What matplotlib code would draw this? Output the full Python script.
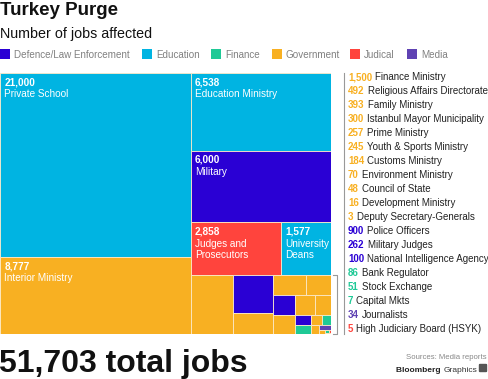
import matplotlib
matplotlib.use('Agg')
import matplotlib.pyplot as plt
from matplotlib.patches import Rectangle, FancyBboxPatch

plt.rcParams['font.family'] = ['Liberation Sans', 'DejaVu Sans']

# jobs affected, sorted largest first (treemap order)
names = ['Private School', 'Interior Ministry', 'Education Ministry', 'Military',
         'Judges and\nProsecutors', 'University\nDeans', 'Finance Ministry',
         'Police Officers', 'Religious Affairs Directorate', 'Family Ministry',
         'Istanbul Mayor Municipality', 'Military Judges', 'Prime Ministry',
         'Youth & Sports Ministry', 'Customs Ministry', 'National Intelligence Agency',
         'Bank Regulator', 'Environment Ministry', 'Stock Exchange', 'Council of State',
         'Journalists', 'Development Ministry', 'Capital Mkts',
         'High Judiciary Board (HSYK)', 'Deputy Secretary-Generals']
values = [21000, 8777, 6538, 6000, 2858, 1577, 1500, 900, 492, 393, 300, 262, 257,
          245, 184, 100, 86, 70, 51, 48, 34, 16, 7, 5, 3]
cats = ['Education', 'Government', 'Education', 'Defence/Law Enforcement', 'Judical',
        'Education', 'Government', 'Defence/Law Enforcement', 'Government', 'Government',
        'Government', 'Defence/Law Enforcement', 'Government', 'Government', 'Government',
        'Defence/Law Enforcement', 'Finance', 'Government', 'Finance', 'Government',
        'Media', 'Government', 'Finance', 'Judical', 'Government']

categories = ['Defence/Law Enforcement', 'Education', 'Finance', 'Government', 'Judical', 'Media']
colors = {'Defence/Law Enforcement': '#2a00d4', 'Education': '#00b4e2',
          'Finance': '#1fc996', 'Government': '#f8b022', 'Judical': '#ff443d',
          'Media': '#5f42b3'}
list_order = ['Government', 'Defence/Law Enforcement', 'Finance', 'Media', 'Judical']
label_min = 1577  # cells big enough to hold their own label


def worst(row, side):
    s = sum(row)
    return max(max(side * side * r / (s * s), s * s / (side * side * r)) for r in row)


def squarify(vals, x, y, dx, dy):
    total = float(sum(vals))
    areas = [v / total * dx * dy for v in vals]
    rects = []
    i = 0
    while i < len(areas):
        side = min(dx, dy)
        row = [areas[i]]
        j = i + 1
        while j < len(areas) and worst(row + [areas[j]], side) <= worst(row, side):
            row.append(areas[j])
            j += 1
        s = sum(row)
        if dx >= dy:
            w = s / dy
            yy = y
            for a in row:
                rects.append((x, yy, w, a / w))
                yy += a / w
            x += w
            dx -= w
        else:
            h = s / dx
            xx = x
            for a in row:
                rects.append((xx, y, a / h, h))
                xx += a / h
            y += h
            dy -= h
        i = j
    return rects


W, H = 488, 379
fig = plt.figure(figsize=(W / 100, H / 100), dpi=100)

# overlay in pixel coordinates for the text
ov = fig.add_axes([0, 0, 1, 1])
ov.set_xlim(0, W)
ov.set_ylim(H, 0)
ov.axis('off')

ov.text(0, 15, 'Turkey Purge', fontsize=13.5, fontweight='bold', color='#111111', va='baseline')
ov.text(0, 38, 'Number of jobs affected', fontsize=10.3, color='#111111', va='baseline')

leg_x = [0, 142, 211, 272, 350, 407]
for c, lx in zip(categories, leg_x):
    ov.add_patch(Rectangle((lx, 49), 10, 10, color=colors[c], lw=0))
    ov.text(lx + 14, 54.5, c, fontsize=7.1, color='#808080', va='center')

# treemap
ax = fig.add_axes([0, 1 - 334 / H, 331 / W, 261 / H])
ax.set_xlim(0, 1)
ax.set_ylim(1, 0)
ax.axis('off')

rects = squarify(values, 0, 0, 1, 1)
for (x, y, w, h), v, n, c in zip(rects, values, names, cats):
    ax.add_patch(Rectangle((x, y), w, h, facecolor=colors[c], edgecolor='#fbe9c8', lw=0.6))
    if v >= label_min:
        ax.annotate('{:,}'.format(v), (x, y), xytext=(3, -3), textcoords='offset points',
                    fontsize=7.2, fontweight='bold', color='white', va='top')
        ax.annotate(n, (x, y), xytext=(3, -11.8), textcoords='offset points',
                    fontsize=7.2, color='white', va='top', linespacing=1.15)

# bracket around the small cells and the list rule
small_top = min(r[1] for r, v in zip(rects, values) if v < label_min)
ax.plot([1.006, 1.018, 1.018, 1.006], [small_top, small_top, 1, 1], color='#999999',
        lw=0.8, clip_on=False)
ax.plot([1.039, 1.039], [0, 1], color='#999999', lw=0.8, clip_on=False)

# side list of the small items
small = [(v, n, c) for v, n, c in zip(values, names, cats) if v < label_min]
small.sort(key=lambda t: (list_order.index(t[2]), -t[0]))
ys = [77 + k * (329 - 77) / (len(small) - 1) for k in range(len(small))]
for (v, n, c), yy in zip(small, ys):
    t = ov.text(348, yy + 3, '{:,}'.format(v), fontsize=7, fontweight='bold',
                color=colors[c], va='baseline')
    ov.annotate(n, xy=(1, 0), xycoords=t, xytext=(2.2, 0), textcoords='offset points',
                fontsize=7, color='#222222', va='bottom')

ov.text(-1, 372, '51,703 total jobs', fontsize=23, fontweight='bold', color='#111111',
        va='baseline')
ov.text(487, 359, 'Sources: Media reports', fontsize=5.6, color='#888888', ha='right',
        va='baseline')
g = ov.text(477, 372, 'Graphics', fontsize=6, color='#333333', ha='right', va='baseline')
ov.annotate('Bloomberg ', xy=(0, 0), xycoords=g, xytext=(0, 0), textcoords='offset points',
            fontsize=6, fontweight='bold', color='#222222', ha='right', va='bottom')
ov.add_patch(FancyBboxPatch((480, 365), 6, 6, boxstyle='round,pad=0.5', color='#555555'))

fig.savefig('out.png', dpi=100)
